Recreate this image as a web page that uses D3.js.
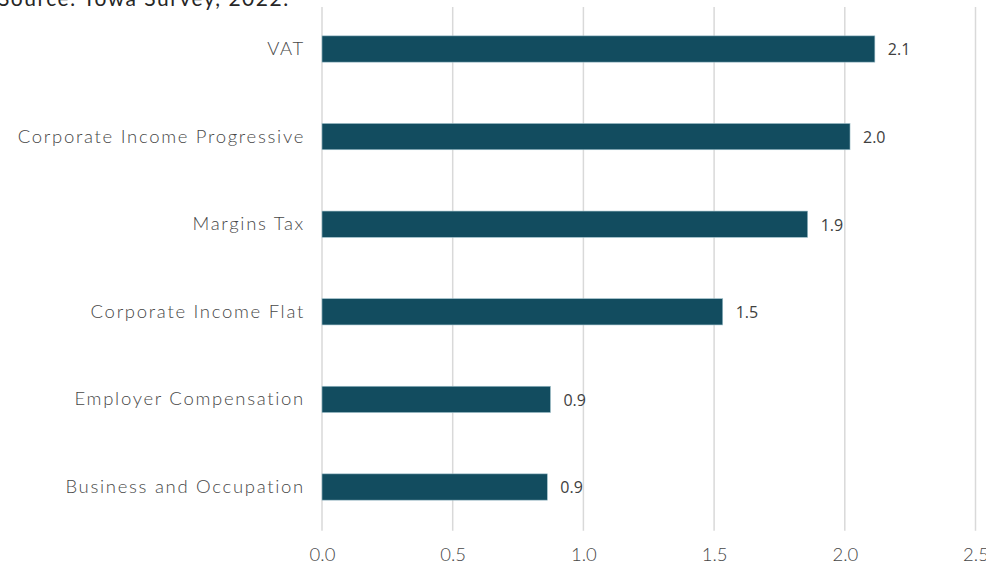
<!DOCTYPE html>
<html><head><meta charset="utf-8">
<script src="https://cdn.jsdelivr.net/npm/d3@7"></script>
<style>body{margin:0;background:#fff;} svg{display:block;}</style>
</head><body>
<svg id="c" width="986" height="566"></svg>
<script>
const categories = ["VAT","Corporate Income Progressive","Margins Tax","Corporate Income Flat","Employer Compensation","Business and Occupation"];
const values = [2.115, 2.02, 1.858, 1.533, 0.874, 0.862];
const valueLabels = ["2.1","2.0","1.9","1.5","0.9","0.9"];
const xTicks = [0,0.5,1.0,1.5,2.0,2.5];
const sourceText = "Source: Towa Survey, 2022.";

const svg = d3.select("#c");
const x = d3.scaleLinear().domain([0,2.5]).range([322,975.5]);
const y = d3.scaleBand().domain(categories).range([5.2,530.8]).paddingInner(0.7).paddingOuter(0.35);

svg.append("text").attr("x",-2).attr("y",6).attr("font-family","Lato, 'DejaVu Sans', sans-serif")
  .attr("font-size",21).attr("letter-spacing","1.5px").attr("fill","#262626").text(sourceText);

// gridlines
svg.append("g").selectAll("line").data(xTicks).join("line")
  .attr("x1",d=>x(d)).attr("x2",d=>x(d)).attr("y1",7).attr("y2",530.8)
  .attr("stroke","#d9d9d9").attr("stroke-width",1.5);

// bars
svg.append("g").selectAll("rect").data(categories).join("rect")
  .attr("x",x(0)).attr("y",c=>y(c))
  .attr("width",(c,i)=>x(values[i])-x(0)).attr("height",y.bandwidth())
  .attr("fill","#124c5f").attr("stroke","#9fc0cb").attr("stroke-width",0.6);

// value labels
svg.append("g").selectAll("text").data(categories).join("text")
  .attr("x",(c,i)=>x(values[i])+13).attr("y",c=>y(c)+y.bandwidth()/2)
  .attr("dy","0.4em").attr("font-family","'Open Sans', 'Liberation Sans', sans-serif").attr("font-size",16)
  .attr("fill","#404040").text((c,i)=>valueLabels[i]);

// category labels
const yAxis = d3.axisLeft(y).tickSize(0).tickPadding(17);
const gy = svg.append("g").attr("transform",`translate(${x(0)},0)`).call(yAxis);
gy.select(".domain").remove();
gy.selectAll("text").attr("font-family","Lato, 'DejaVu Sans', sans-serif").attr("font-size",18.5)
  .attr("font-weight",300).attr("fill","#474747").attr("letter-spacing","1.7px");

// x axis labels
const xAxis = d3.axisBottom(x).tickValues(xTicks).tickFormat(d3.format(".1f")).tickSize(0).tickPadding(17);
const gx = svg.append("g").attr("transform","translate(0,530.8)").call(xAxis);
gx.select(".domain").remove();
gx.selectAll("text").attr("font-family","Lato, 'DejaVu Sans', sans-serif").attr("font-size",18.5)
  .attr("font-weight",300).attr("fill","#474747");
</script>
</body></html>
